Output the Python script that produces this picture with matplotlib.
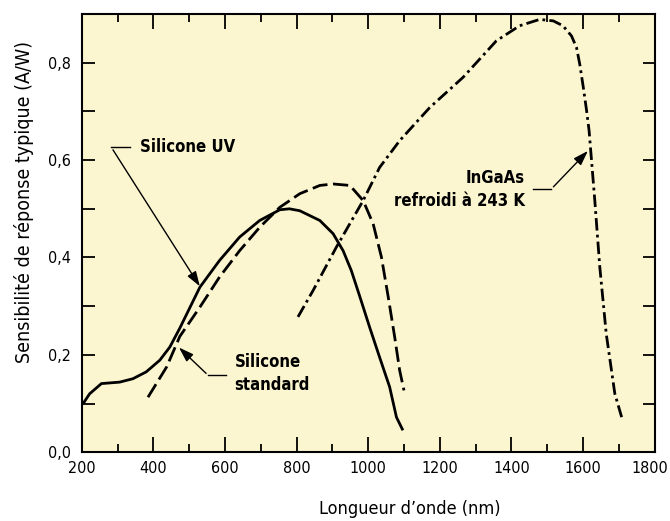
import matplotlib
matplotlib.use("Agg")
import matplotlib.pyplot as plt
import matplotlib.transforms as mtransforms
from matplotlib.ticker import MultipleLocator, FuncFormatter

# Silicone UV (solid)
uv_nm = [204, 222, 255, 306, 343, 380, 418, 446, 474, 530, 585, 641, 697, 753, 780,
         809, 865, 902, 930, 953, 977, 1004, 1032, 1060, 1079, 1097]
uv_resp = [0.100, 0.120, 0.141, 0.144, 0.151, 0.165, 0.189, 0.216, 0.255, 0.339, 0.394,
           0.442, 0.476, 0.498, 0.500, 0.496, 0.476, 0.449, 0.414, 0.373, 0.319, 0.257,
           0.195, 0.134, 0.072, 0.045]

# Silicone standard (dashed)
std_nm = [385, 437, 474, 530, 585, 641, 697, 753, 809, 865, 902, 949, 986, 1014,
          1037, 1056, 1074, 1088, 1100]
std_resp = [0.113, 0.175, 0.238, 0.298, 0.360, 0.414, 0.462, 0.503, 0.531, 0.548,
            0.551, 0.548, 0.517, 0.469, 0.401, 0.319, 0.237, 0.168, 0.127]

# InGaAs refroidi a 243 K (dash-dot)
ingaas_nm = [804, 846, 911, 986, 1032, 1088, 1172, 1265, 1358, 1423, 1479, 1517, 1544,
             1568, 1582, 1591, 1601, 1610, 1617, 1633, 1647, 1665, 1689, 1708]
ingaas_resp = [0.278, 0.332, 0.421, 0.517, 0.585, 0.640, 0.708, 0.770, 0.845, 0.876,
               0.889, 0.886, 0.876, 0.855, 0.831, 0.797, 0.749, 0.702, 0.661, 0.517,
               0.380, 0.243, 0.120, 0.072]

plt.rcParams['font.family'] = ['DejaVu Sans']
plt.rcParams['font.stretch'] = 'condensed'

fig = plt.figure(figsize=(6.7, 5.21), dpi=100)
ax = fig.add_axes([0.122, 0.132, 0.855, 0.841])
ax.set_facecolor('#fcf6d0')

ax.plot(uv_nm, uv_resp, color='black', lw=2, solid_capstyle='butt')
ax.plot(std_nm, std_resp, color='black', lw=2, dashes=(5.5, 2))
ax.plot(ingaas_nm, ingaas_resp, color='black', lw=2, dashes=(4.5, 1.5, 1, 1.5))

ax.set_xlim(200, 1800)
ax.set_ylim(0, 0.9)
ax.xaxis.set_major_locator(MultipleLocator(200))
ax.xaxis.set_minor_locator(MultipleLocator(100))
ax.yaxis.set_major_locator(MultipleLocator(0.2))
ax.yaxis.set_minor_locator(MultipleLocator(0.1))
ax.yaxis.set_major_formatter(FuncFormatter(lambda v, p: f"{v:.1f}".replace('.', ',')))
ax.tick_params(which='both', direction='in', top=True, right=True, width=1.3,
               labelsize=11.5, colors='black')
ax.tick_params(axis='x', which='major', length=11, pad=6)
ax.tick_params(axis='x', which='minor', length=6)
ax.tick_params(axis='y', which='both', length=9, pad=8)
for s in ax.spines.values():
    s.set_linewidth(1.5)

# nudge the "1800" label a little left so it stays inside the picture
fig.canvas.draw()
shift = mtransforms.ScaledTranslation(-5 / 100, 0, fig.dpi_scale_trans)
for tick in ax.xaxis.get_major_ticks():
    if abs(tick.get_loc() - 1800) < 1:
        tick.label1.set_transform(tick.label1.get_transform() + shift)

ax.set_xlabel("Longueur d\u2019onde (nm)", fontsize=13)
ax.xaxis.set_label_coords(0.572, -0.11)
ax.set_ylabel("Sensibilit\u00e9 de r\u00e9ponse typique (A/W)", fontsize=14)
ax.yaxis.set_label_coords(-0.083, 0.57)

# annotations
arrow = dict(arrowstyle='-|>,head_length=0.9,head_width=0.3', color='black', lw=1)

ax.text(362, 0.626, "Silicone UV", fontsize=12, fontweight='bold', va='center')
ax.plot([334, 283], [0.626, 0.626], color='black', lw=1)
ax.annotate("", xy=(534, 0.336), xytext=(283, 0.626), arrowprops=arrow)

ax.text(627, 0.162, "Silicone\nstandard", fontsize=12, fontweight='bold', va='center',
        linespacing=1.35)
ax.plot([604, 553], [0.158, 0.158], color='black', lw=1)
ax.annotate("", xy=(466, 0.219), xytext=(553, 0.158), arrowprops=arrow)

ax.text(1437, 0.539, "InGaAs\nrefroidi \u00e0 243 K", fontsize=12, fontweight='bold',
        va='center', ha='right', multialignment='right', linespacing=1.35)
ax.plot([1461, 1512], [0.541, 0.541], color='black', lw=1)
ax.annotate("", xy=(1619, 0.623), xytext=(1512, 0.541), arrowprops=arrow)

fig.savefig("out.png", dpi=100)
